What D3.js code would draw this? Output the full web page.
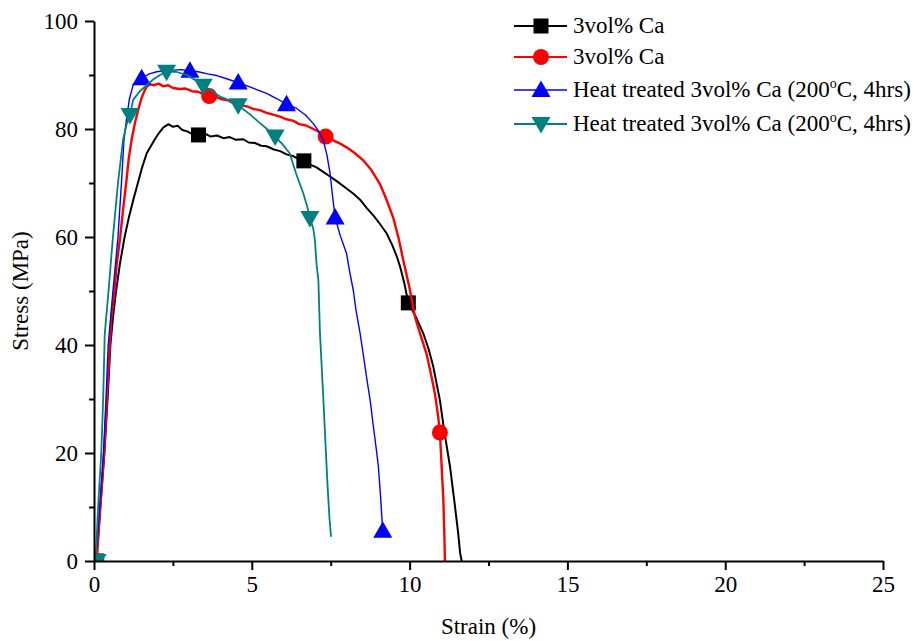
<!DOCTYPE html>
<html>
<head>
<meta charset="utf-8">
<script src="https://cdn.jsdelivr.net/npm/d3@7"></script>
<style>
  body { margin: 0; background: #fff; }
  svg { display: block; font-family: "Liberation Serif", "Times New Roman", serif; }
</style>
</head>
<body>
<div class="container-svg"><svg></svg></div>
<script>

// dados: [strain (%), stress (MPa)]
const black_curve = [[0.08,0],[0.2,10],[0.33,20],[0.43,30],[0.52,40],[0.6,45],[0.7,50],[0.82,55],[0.97,60],[1.1,63.5],[1.25,67],[1.39,70],[1.52,72.8],[1.67,75.5],[1.8,76.8],[1.92,78],[2.05,79.2],[2.2,80.3],[2.36,80.9],[2.5,80.4],[2.65,80.6],[2.8,79.8],[2.94,79.6],[3.1,79.1],[3.31,78.9],[3.5,79.2],[3.7,78.6],[3.9,78.8],[4.1,78.3],[4.3,78.5],[4.5,78.0],[4.73,78.1],[4.9,77.5],[5.1,77.4],[5.3,76.9],[5.47,76.8],[5.7,76.2],[5.9,75.9],[6.1,75.3],[6.3,75.0],[6.5,74.4],[6.65,74.1],[6.85,73.4],[7.05,72.9],[7.25,72.1],[7.48,71.2],[7.7,70.3],[7.95,69.2],[8.22,68.0],[8.43,66.9],[8.65,65.3],[8.85,64.0],[9.05,62.5],[9.27,60.7],[9.45,58.5],[9.6,56.3],[9.7,54.5],[9.83,51.5],[9.96,47.8],[10.2,45.2],[10.43,42.2],[10.6,39.3],[10.75,36],[10.96,29.8],[11.1,24],[11.28,17.5],[11.42,11],[11.54,5.1],[11.6,1.5],[11.65,0]];
const red_curve = [[0.08,0],[0.2,10],[0.32,20],[0.41,30],[0.5,40],[0.55,45],[0.65,50],[0.72,55],[0.83,60],[0.92,65],[1.02,70],[1.1,74.5],[1.2,78.3],[1.3,81.2],[1.4,83.5],[1.5,85.6],[1.6,87.1],[1.67,87.8],[1.77,88.3],[1.9,88.1],[2.05,88.4],[2.2,87.9],[2.35,88.1],[2.5,87.6],[2.72,87.4],[2.9,87.5],[3.1,87.0],[3.3,86.9],[3.48,86.4],[3.65,86.1],[3.85,86.0],[4.05,85.5],[4.25,85.3],[4.45,84.7],[4.63,84.4],[4.85,84.2],[5.05,83.7],[5.25,83.5],[5.47,83.0],[5.7,82.6],[5.9,82.3],[6.1,81.8],[6.32,81.5],[6.5,80.9],[6.7,80.7],[6.95,80.0],[7.15,79.4],[7.34,78.6],[7.55,78.0],[7.8,77.3],[8.0,76.6],[8.25,75.6],[8.53,74.2],[8.8,72.3],[9.06,69.8],[9.27,66.9],[9.48,63.6],[9.65,59.8],[9.8,55.7],[10.0,50.5],[10.17,45.2],[10.35,41.8],[10.54,38.3],[10.7,34],[10.8,31],[10.9,27],[10.96,23.8],[11.02,17],[11.07,11.3],[11.1,5],[11.12,0]];
const blue_curve = [[0.05,0],[0.18,10],[0.3,20],[0.38,30],[0.45,40],[0.6,50],[0.76,60],[0.87,70],[0.95,78],[1.04,82.3],[1.12,85.5],[1.25,88.3],[1.4,89.1],[1.51,89.4],[1.75,90.2],[1.99,90.6],[2.25,90.8],[2.5,90.9],[2.75,91.0],[3.04,90.8],[3.3,90.6],[3.6,90.2],[3.89,89.9],[4.2,89.3],[4.57,88.6],[4.85,88.0],[5.15,87.3],[5.47,86.6],[5.8,85.6],[6.1,84.6],[6.42,83.8],[6.7,82.6],[6.95,81.0],[7.12,79.6],[7.27,77.8],[7.38,75.2],[7.48,71.8],[7.56,67.5],[7.64,63.6],[7.8,60.3],[8.0,57],[8.11,53.3],[8.22,50],[8.3,46.5],[8.43,42.2],[8.55,37.5],[8.65,33.5],[8.75,29.8],[8.85,25],[8.95,20.5],[9.01,17.5],[9.08,12],[9.12,8.2],[9.15,5.6]];
const teal_curve = [[0.05,0],[0.13,10],[0.23,20],[0.29,30],[0.34,42],[0.46,50],[0.6,60],[0.76,70],[0.92,78],[1.03,80.8],[1.14,82.6],[1.24,85.4],[1.45,87],[1.67,88.1],[1.88,89.2],[2.09,90],[2.3,90.6],[2.6,90.6],[2.94,90],[3.2,89.1],[3.46,88],[3.72,87.1],[3.99,86],[4.3,85.3],[4.57,84.4],[4.92,82.8],[5.26,81.1],[5.5,79.9],[5.74,78.6],[5.97,77.2],[6.2,75.5],[6.4,71.8],[6.63,68.1],[6.75,65.8],[6.84,63.5],[6.95,61.5],[7.0,59.4],[7.05,55],[7.11,52],[7.16,42.2],[7.25,32],[7.32,23.6],[7.4,14],[7.46,8],[7.51,4.5]];

// simbolos
const black_markers = [[0.08,0],[3.31,78.9],[6.65,74.1],[9.96,47.8]];
const red_markers = [[0.08,0],[3.65,86.1],[7.34,78.6],[10.96,23.8]];
const blue_markers = [[0.05,0],[1.51,89.4],[3.04,90.8],[4.57,88.6],[6.1,84.6],[7.64,63.6],[9.15,5.6]];
const teal_markers = [[0.1,0],[1.14,82.6],[2.3,90.6],[3.46,88],[4.57,84.4],[5.74,78.6],[6.84,63.5]];

const series_names = ["3vol% Ca", "3vol% Ca", "Heat treated 3vol% Ca (200", "Heat treated 3vol% Ca (200"];
const x_ticks = [0, 5, 10, 15, 20, 25];
const y_ticks = [0, 20, 40, 60, 80, 100];

const vis = {

    refs : {
        svg : "svg"
    },

    sels : {
        svg : null,
        plot : null
    },

    params : {

        width : 916,
        height : 641,
        margin : { left : 94, right : 33, top : 21, bottom : 80 },
        font_size : 23,

        series : [
            { name : series_names[0], line : black_curve, markers : black_markers, color : "#000000", stroke : 2, symbol : "square" },
            { name : series_names[1], line : red_curve, markers : red_markers, color : "#ff0000", stroke : 2.4, symbol : "circle" },
            { name : series_names[2], line : blue_curve, markers : blue_markers, color : "#0000ff", stroke : 1.4, symbol : "up" },
            { name : series_names[3], line : teal_curve, markers : teal_markers, color : "#008080", stroke : 1.8, symbol : "down" }
        ]

    },

    scales : {
        x : null,
        y : null
    },

    utils : {

        marker : function(sel, symbol, color) {

            if (symbol == "square") {
                sel.append("rect").attr("x", -7.5).attr("y", -7.5).attr("width", 15).attr("height", 15).attr("fill", color);
            } else if (symbol == "circle") {
                sel.append("circle").attr("r", 8).attr("fill", color);
            } else if (symbol == "up") {
                sel.append("path").attr("d", "M0,-9.5L9.5,7L-9.5,7Z").attr("fill", color);
            } else {
                sel.append("path").attr("d", "M0,9.5L9.5,-7L-9.5,-7Z").attr("fill", color);
            }

        }

    },

    render : {

        scales : function() {

            const p = vis.params;

            vis.scales.x = d3.scaleLinear()
              .domain([0, 25])
              .range([p.margin.left, p.width - p.margin.right]);

            vis.scales.y = d3.scaleLinear()
              .domain([0, 100])
              .range([p.height - p.margin.bottom, p.margin.top]);

        },

        curves : function() {

            const svg = vis.sels.svg;
            const x = vis.scales.x, y = vis.scales.y;

            svg.append("clipPath")
              .attr("id", "clip")
              .append("rect")
              .attr("x", x(0)).attr("y", y(100))
              .attr("width", x(25) - x(0)).attr("height", y(0) - y(100));

            vis.sels.plot = svg.append("g").attr("clip-path", "url(#clip)");

            const line = d3.line().x(d => x(d[0])).y(d => y(d[1]));

            vis.params.series.forEach(s => {

                vis.sels.plot.append("path")
                  .attr("d", line(s.line))
                  .attr("fill", "none")
                  .attr("stroke", s.color)
                  .attr("stroke-width", s.stroke)
                  .attr("stroke-linejoin", "round");

                vis.sels.plot.selectAll(null)
                  .data(s.markers)
                  .join("g")
                  .attr("transform", d => `translate(${x(d[0])},${y(d[1])})`)
                  .each(function() { vis.utils.marker(d3.select(this), s.symbol, s.color); });

            })

        },

        axes : function() {

            const svg = vis.sels.svg;
            const x = vis.scales.x, y = vis.scales.y;
            const fs = vis.params.font_size;

            // minor ticks
            svg.append("g")
              .attr("transform", `translate(0,${y(0)})`)
              .call(d3.axisBottom(x).tickValues(d3.range(2.5, 25, 5)).tickSize(5).tickFormat(""))
              .call(g => g.select(".domain").remove())
              .selectAll("line").attr("stroke-width", 2);

            svg.append("g")
              .attr("transform", `translate(${x(0)},0)`)
              .call(d3.axisLeft(y).tickValues(d3.range(10, 100, 20)).tickSize(5).tickFormat(""))
              .call(g => g.select(".domain").remove())
              .selectAll("line").attr("stroke-width", 2);

            const gx = svg.append("g")
              .attr("transform", `translate(0,${y(0)})`)
              .call(d3.axisBottom(x).tickValues(x_ticks).tickSize(9).tickPadding(6).tickSizeOuter(0));

            const gy = svg.append("g")
              .attr("transform", `translate(${x(0)},0)`)
              .call(d3.axisLeft(y).tickValues(y_ticks).tickSize(9).tickPadding(7).tickSizeOuter(0));

            [gx, gy].forEach(g => {
                g.select(".domain").attr("stroke-width", 2);
                g.selectAll(".tick line").attr("stroke-width", 2);
                g.selectAll("text")
                  .attr("font-family", "Liberation Serif, Times New Roman, serif")
                  .attr("font-size", fs)
                  .attr("fill", "#000");
            })

            gy.selectAll("text").attr("dy", "0.34em");

            svg.append("text")
              .attr("x", (x(0) + x(25)) / 2)
              .attr("y", 634)
              .attr("text-anchor", "middle")
              .attr("font-size", fs)
              .text("Strain (%)");

            svg.append("text")
              .attr("transform", `translate(28,${y(50)}) rotate(-90)`)
              .attr("text-anchor", "middle")
              .attr("font-size", fs)
              .text("Stress (MPa)");

        },

        legend : function() {

            const rows = [26, 57, 90, 124];

            const items = vis.sels.svg.append("g")
              .selectAll("g.item")
              .data(vis.params.series)
              .join("g")
              .classed("item", true)
              .attr("transform", (d,i) => `translate(514,${rows[i]})`);

            items.append("line")
              .attr("x1", 0).attr("x2", 53)
              .attr("stroke", d => d.color)
              .attr("stroke-width", d => Math.min(d.stroke, 2));

            items.each(function(d) {
                const m = d3.select(this).append("g").attr("transform", "translate(27,0)");
                vis.utils.marker(m, d.symbol, d.color);
            })

            const txt = items.append("text")
              .attr("x", 59)
              .attr("y", 7)
              .attr("font-size", vis.params.font_size)
              .text(d => d.name);

            txt.filter((d,i) => i >= 2).each(function() {
                const t = d3.select(this);
                t.append("tspan").attr("font-size", 14).attr("dy", -9).text("o");
                t.append("tspan").attr("dy", 9).text("C, 4hrs)");
            })

        }

    },

    control : {

        initialize_selections : function() {

            vis.sels.svg = d3.select(vis.refs.svg)
              .attr("width", vis.params.width)
              .attr("height", vis.params.height);

        },

        init : function() {

            vis.control.initialize_selections();
            vis.render.scales();
            vis.render.curves();
            vis.render.axes();
            vis.render.legend();

        }

    }

}

vis.control.init();
</script>
</body>
</html>
